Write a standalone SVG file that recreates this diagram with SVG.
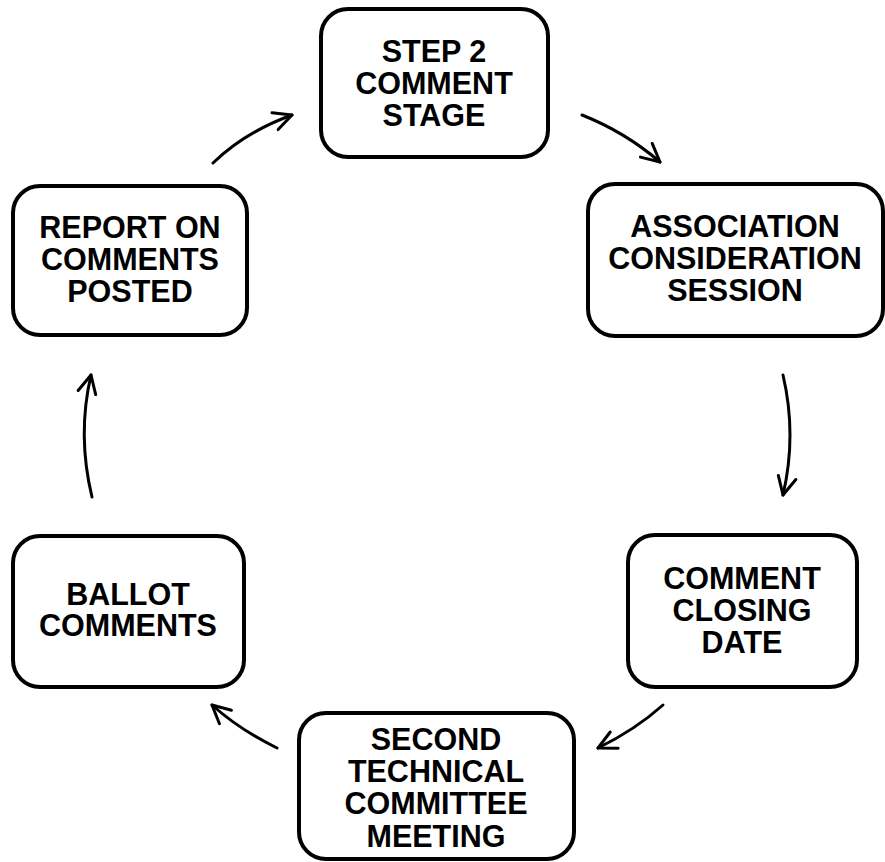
<svg xmlns="http://www.w3.org/2000/svg" width="885" height="862" viewBox="0 0 885 862">
<defs>
<style>
.box{fill:#fff;stroke:#000;stroke-width:4}
.t{font-family:"Liberation Sans",Arial,sans-serif;font-weight:bold;font-size:30.5px;text-anchor:middle;fill:#000}
.c{fill:none;stroke:#000;stroke-width:3;stroke-linecap:round}
</style>
<marker id="ah" markerUnits="userSpaceOnUse" markerWidth="40" markerHeight="40" refX="0" refY="0" viewBox="-25 -20 30 40" orient="auto" overflow="visible">
<path d="M-18,-9 L0,0 L-18,9" fill="none" stroke="#000" stroke-width="3" stroke-linecap="round" stroke-linejoin="round"/>
</marker>
</defs>
<rect width="885" height="862" fill="#fff"/>
<g id="n1"><rect class="box" x="321" y="9" width="227" height="148" rx="27"/>
<text class="t" x="434" y="62">STEP 2</text><text class="t" x="434" y="94">COMMENT</text><text class="t" x="434" y="126">STAGE</text></g>
<g id="n2"><rect class="box" x="588" y="184" width="295" height="152" rx="27"/>
<text class="t" x="735" y="237">ASSOCIATION</text><text class="t" x="735" y="269">CONSIDERATION</text><text class="t" x="735" y="301">SESSION</text></g>
<g id="n3"><rect class="box" x="13" y="186" width="234" height="149" rx="27"/>
<text class="t" x="130" y="238">REPORT ON</text><text class="t" x="130" y="270">COMMENTS</text><text class="t" x="130" y="302">POSTED</text></g>
<g id="n4"><rect class="box" x="628" y="535" width="229" height="152" rx="27"/>
<text class="t" x="742" y="589">COMMENT</text><text class="t" x="742" y="621">CLOSING</text><text class="t" x="742" y="653">DATE</text></g>
<g id="n5"><rect class="box" x="13" y="536" width="231" height="151" rx="27"/>
<text class="t" x="128" y="605">BALLOT</text><text class="t" x="128" y="636">COMMENTS</text></g>
<g id="n6"><rect class="box" x="299" y="713" width="275" height="146" rx="27"/>
<text class="t" x="436" y="750">SECOND</text><text class="t" x="436" y="782">TECHNICAL</text><text class="t" x="436" y="814">COMMITTEE</text><text class="t" x="436" y="847">MEETING</text></g>
<g id="connectors">
<path class="c" d="M213,163 Q245,132 292,115" marker-end="url(#ah)"/>
<path class="c" d="M582,115 Q625,132 660,162" marker-end="url(#ah)"/>
<path class="c" d="M783,375 Q797,435 783,495" marker-end="url(#ah)"/>
<path class="c" d="M663,705 Q635,730 598,748" marker-end="url(#ah)"/>
<path class="c" d="M277,748 Q240,730 212,705" marker-end="url(#ah)"/>
<path class="c" d="M92,497 Q77,435 91,375" marker-end="url(#ah)"/>
</g>
</svg>
